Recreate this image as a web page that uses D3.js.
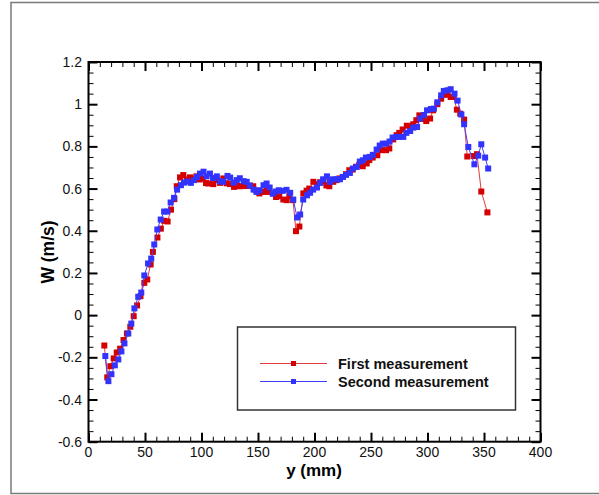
<!DOCTYPE html>
<html><head><meta charset="UTF-8"><title>W profile</title>
<style>
  body, html { margin: 0; padding: 0; background: #fff; overflow: hidden; }
  svg { display: block; font-family: 'Liberation Sans', Arial, sans-serif; }
</style>
</head>
<body>
<div id="chart"></div>
<script src="https://d3js.org/d3.v7.min.js"></script>
<script>
// y (mm) positions and W (m/s) for each run
const firstY = [14,16.6,19.3,22.3,25,28,31,34,37,40,43,46,49.4,52,55,57,61,64,67,70,73,76,78.1,81,83.9,86.9,89.8,93,95.4,98.4,
  101.1,104,106,110.4,113.3,116.4,119.3,122.3,125.2,128.8,131.5,134.1,137.1,140,143,145.8,148.5,151.2,154.7,157.5,159.1,163.5,166,168.8,172.4,175.4,177.7,181,
  183.6,186.6,190.1,193,195.4,199,202,205,208,210.5,213.1,216.6,219.5,222,225,227.9,230.8,233.8,236.7,239.6,242.7,246.2,248.5,251.5,255.6,259.5,263.3,266.2,
  269.7,272.7,275,278,281.7,284.7,287.4,290.1,292.8,295.8,298.9,302.3,305,308.7,312.1,314.8,317.8,320.5,323.2,326,329,332.4,335.2,341,343.8,347.6,353];
const firstW = [-0.144,-0.295,-0.242,-0.205,-0.177,-0.159,-0.118,-0.087,-0.055,-0.005,0.046,0.09,0.153,0.169,0.24,0.30,0.368,0.41,0.447,0.444,0.50,0.55,0.611,0.653,0.664,0.643,0.653,0.644,0.658,0.643,
  0.648,0.626,0.624,0.621,0.64,0.627,0.648,0.625,0.621,0.608,0.612,0.611,0.612,0.612,0.614,0.611,0.59,0.577,0.584,0.6,0.584,0.577,0.56,0.564,0.548,0.545,0.564,0.545,
  0.398,0.42,0.577,0.59,0.60,0.632,0.62,0.63,0.633,0.615,0.611,0.632,0.64,0.648,0.655,0.668,0.687,0.69,0.703,0.712,0.706,0.719,0.735,0.747,0.758,0.782,0.782,0.79,
  0.833,0.853,0.864,0.88,0.898,0.895,0.905,0.924,0.947,0.93,0.92,0.932,0.971,1.0,1.026,1.045,1.045,1.034,1.034,0.974,0.955,0.927,0.752,0.754,0.763,0.586,0.487];

const secondY = [14.9,17.6,20.3,23.3,26.4,29.1,31.8,35.2,37.9,40.6,44,46.7,49.4,52.7,55.5,58.2,60.9,63.9,66.9,69.7,72.7,75.7,78.4,81.8,84.5,87.2,90.6,93.3,96,98.7,
  101.8,104.5,107.5,110.2,113.6,116.3,119,123,125.4,128.5,131.2,133.9,137.3,140,142.7,146.1,148.8,151.5,154.9,157.6,160.3,163,165.7,168.4,171.8,175.2,178.5,181.2,
  184.6,187.3,190,193.4,196.1,198.8,202.2,204.9,207.6,211,213.7,216.4,219.8,222.5,225.2,227.9,231.3,234,237.4,240.1,242.8,245.5,248.9,251.6,255,257.7,260.4,263.7,
  266.4,269.1,272.5,275.2,278.6,281.3,284.7,287.4,290.8,293.5,296.9,299.6,303,305.7,308.7,312.1,314.4,317.8,320.5,323.9,326.6,330,332.4,336.1,341.5,344.9,347.6,351,353.7];
const secondW = [-0.194,-0.313,-0.28,-0.238,-0.21,-0.172,-0.134,-0.087,-0.04,0.032,0.087,0.107,0.188,0.245,0.268,0.335,0.406,0.453,0.491,0.491,0.534,0.556,0.595,0.616,0.628,0.633,0.627,0.64,0.655,0.671,
  0.68,0.658,0.671,0.65,0.658,0.635,0.632,0.66,0.652,0.628,0.64,0.649,0.635,0.632,0.614,0.595,0.584,0.592,0.616,0.624,0.605,0.576,0.586,0.592,0.589,0.594,0.58,0.548,
  0.463,0.477,0.548,0.568,0.58,0.595,0.605,0.627,0.644,0.658,0.632,0.644,0.644,0.644,0.655,0.665,0.674,0.695,0.703,0.728,0.734,0.747,0.75,0.76,0.785,0.804,0.813,0.813,
  0.823,0.842,0.845,0.845,0.845,0.864,0.873,0.889,0.892,0.932,0.949,0.971,0.977,0.979,1.009,1.042,1.063,1.066,1.071,1.05,1.017,0.951,0.905,0.797,0.715,0.756,0.81,0.747,0.695];

const xTicks = [0, 50, 100, 150, 200, 250, 300, 350, 400];
const yTicks = [-0.6, -0.4, -0.2, 0, 0.2, 0.4, 0.6, 0.8, 1, 1.2];
const seriesNames = ["First measurement", "Second measurement"];

const width = 599, height = 495;
const svg = d3.select("#chart").append("svg").attr("width", width).attr("height", height);

// outer frame
svg.append("rect").attr("x", 11).attr("y", 2.5).attr("width", 600).attr("height", 491)
  .attr("fill", "none").attr("stroke", "#7a7a7a").attr("stroke-width", 1.5);

const x = d3.scaleLinear().domain([0, 400]).range([88.5, 540.5]);
const y = d3.scaleLinear().domain([-0.6, 1.2]).range([441.7, 62]);

const xMinor = d3.range(0, 401, 10).filter(v => v % 50 !== 0);
const yMinor = d3.range(-0.6, 1.2001, 0.05).map(v => +v.toFixed(2)).filter(v => Math.abs(Math.round(v * 5) - v * 5) > 1e-6);

function tickAxis(axisFn, scale, vals, len, sw) {
  return g => {
    g.call(axisFn(scale).tickValues(vals).tickSize(len).tickFormat(""));
    g.select(".domain").remove();
    g.selectAll("line").attr("stroke", "#000").attr("stroke-width", sw);
  };
}

// inward ticks on all four sides
svg.append("g").attr("transform", `translate(0,${y(-0.6)})`).call(tickAxis(d3.axisTop, x, xMinor, 5, 1));
svg.append("g").attr("transform", `translate(0,${y(-0.6)})`).call(tickAxis(d3.axisTop, x, xTicks, 9, 2));
svg.append("g").attr("transform", `translate(0,${y(1.2)})`).call(tickAxis(d3.axisBottom, x, xMinor, 5, 1));
svg.append("g").attr("transform", `translate(0,${y(1.2)})`).call(tickAxis(d3.axisBottom, x, xTicks, 9, 2));
svg.append("g").attr("transform", `translate(${x(0)},0)`).call(tickAxis(d3.axisRight, y, yMinor, 5, 1));
svg.append("g").attr("transform", `translate(${x(0)},0)`).call(tickAxis(d3.axisRight, y, yTicks, 9, 2));
svg.append("g").attr("transform", `translate(${x(400)},0)`).call(tickAxis(d3.axisLeft, y, yMinor, 5, 1));
svg.append("g").attr("transform", `translate(${x(400)},0)`).call(tickAxis(d3.axisLeft, y, yTicks, 9, 2));

// tick labels
svg.append("g").selectAll("text").data(xTicks).join("text")
  .attr("x", d => x(d)).attr("y", 456.5).attr("text-anchor", "middle")
  .attr("font-size", 14).attr("fill", "#111").text(d => d);
svg.append("g").selectAll("text").data(yTicks).join("text")
  .attr("x", 82).attr("y", d => y(d) + 5).attr("text-anchor", "end")
  .attr("font-size", 14).attr("fill", "#111").text(d => d3.format("~g")(d).replace("−", "-"));

// axis titles
svg.append("text").attr("x", 314).attr("y", 476).attr("text-anchor", "middle")
  .attr("font-size", 17).attr("font-weight", "bold").text("y (mm)");
svg.append("text").attr("transform", `translate(54,252) rotate(-90)`).attr("text-anchor", "middle")
  .attr("font-size", 17.5).attr("font-weight", "bold").text("W (m/s)");

// data
const first = firstY.map((v, i) => [v, firstW[i]]);
const second = secondY.map((v, i) => [v, secondW[i]]);
const line = d3.line().x(d => x(d[0])).y(d => y(d[1]));
const styles = [
  { data: first, line: "#e23b3b", mark: "#d40000" },
  { data: second, line: "#3f3fff", mark: "#3333ff" }
];
const ms = 6;
styles.forEach(s => {
  svg.append("path").datum(s.data).attr("d", line)
    .attr("fill", "none").attr("stroke", s.line).attr("stroke-width", 1);
  svg.append("g").selectAll("rect").data(s.data).join("rect")
    .attr("x", d => x(d[0]) - ms / 2).attr("y", d => y(d[1]) - ms / 2)
    .attr("width", ms).attr("height", ms).attr("fill", s.mark);
});

// plot frame
svg.append("rect").attr("x", x(0)).attr("y", y(1.2)).attr("width", x(400) - x(0)).attr("height", y(-0.6) - y(1.2))
  .attr("fill", "none").attr("stroke", "#000").attr("stroke-width", 2);

// legend
const leg = svg.append("g");
leg.append("rect").attr("x", 237.5).attr("y", 327).attr("width", 278).attr("height", 83)
  .attr("fill", "#fff").attr("stroke", "#333").attr("stroke-width", 1.5);
seriesNames.forEach((name, i) => {
  const ly = 363.5 + i * 18;
  leg.append("line").attr("x1", 260).attr("x2", 327).attr("y1", ly).attr("y2", ly)
    .attr("stroke", styles[i].line).attr("stroke-width", 1);
  leg.append("rect").attr("x", 293.5 - 2.5).attr("y", ly - 2.5).attr("width", 5).attr("height", 5)
    .attr("fill", styles[i].mark);
  leg.append("text").attr("x", 338).attr("y", ly + 5).attr("font-size", 14.5)
    .attr("font-weight", "bold").attr("fill", "#111").text(name);
});
</script>
</body></html>
